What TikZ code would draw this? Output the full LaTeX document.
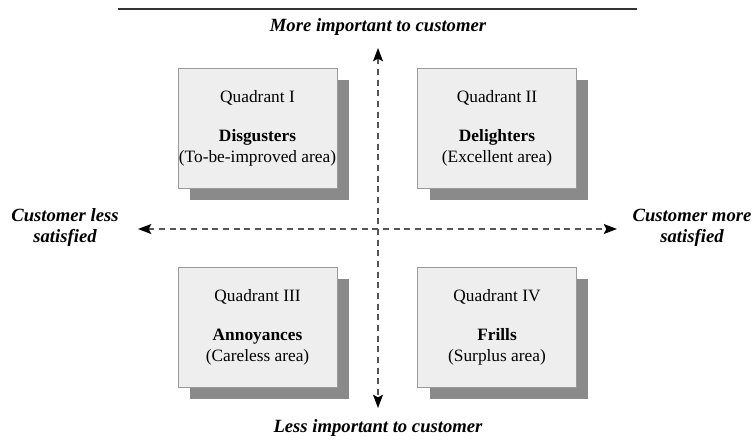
\documentclass[tikz,border=0pt]{standalone}
\usepackage{fontspec}
\setmainfont{Liberation Serif}
\usepackage{tikz}
\usetikzlibrary{arrows.meta,positioning,shadows}

\definecolor{boxfill}{HTML}{EEEEEE}
\definecolor{boxline}{HTML}{9A9A9A}
\definecolor{shade}{HTML}{8A8A8B}
\definecolor{axisline}{HTML}{555555}
\definecolor{rulecol}{HTML}{333333}

\begin{document}
\begin{tikzpicture}[x=0.75pt,y=-0.75pt]
  \tikzset{
    quad/.style={draw=boxline, fill=boxfill, line width=0.5pt,
      minimum width=119pt, minimum height=90pt, align=center, inner sep=0pt,
      font=\fontsize{13}{15.75}\selectfont,
      drop shadow={shadow xshift=9pt, shadow yshift=-9pt, fill=shade, opacity=1}},
    axis/.style={{Stealth[length=10pt,width=7.5pt,inset=2pt,black]}-{Stealth[length=10pt,width=7.5pt,inset=2pt,black]},
      axisline, line width=0.9pt, dash pattern=on 4.5pt off 3.5pt},
    lbl/.style={font=\fontsize{14}{15.75}\selectfont\bfseries\itshape, align=center, inner sep=0pt}
  }
  \useasboundingbox (0,0) rectangle (755,446);

  % axis positions
  \def\xC{378}
  \def\yC{229}

  % top rule
  \coordinate (ruleL) at (118,9);
  \coordinate (ruleR) at (637,9);
  \draw[rulecol, line width=1.1pt] (ruleL) -- (ruleR);

  % axis labels
  \node[lbl] (more) at (\xC,27) {More important to customer};
  \node[lbl] (less) at (\xC,428) {Less important to customer};
  \node[lbl] (unsat) at (65,228) {Customer less\\satisfied};
  \node[lbl] (sat) at (692,228) {Customer more\\satisfied};

  % quadrants
  \node[quad] (disg) at (257.5,128) {Quadrant I\\[13.5pt]\textbf{Disgusters}\\(To-be-improved area)};
  \node[quad] (deli) at (497,128) {Quadrant II\\[13.5pt]\textbf{Delighters}\\(Excellent area)};
  \node[quad] (anno) at (257.5,327) {Quadrant III\\[13.5pt]\textbf{Annoyances}\\(Careless area)};
  \node[quad] (frill) at (497,327) {Quadrant IV\\[13.5pt]\textbf{Frills}\\(Surplus area)};

  % axes
  \coordinate (vtop) at (\xC,48);
  \coordinate (vbot) at (\xC,408);
  \coordinate (hleft) at (138,\yC);
  \coordinate (hright) at (617,\yC);
  \draw[axis] (vtop) -- (vbot);
  \draw[axis] (hleft) -- (hright);

\end{tikzpicture}
\end{document}
